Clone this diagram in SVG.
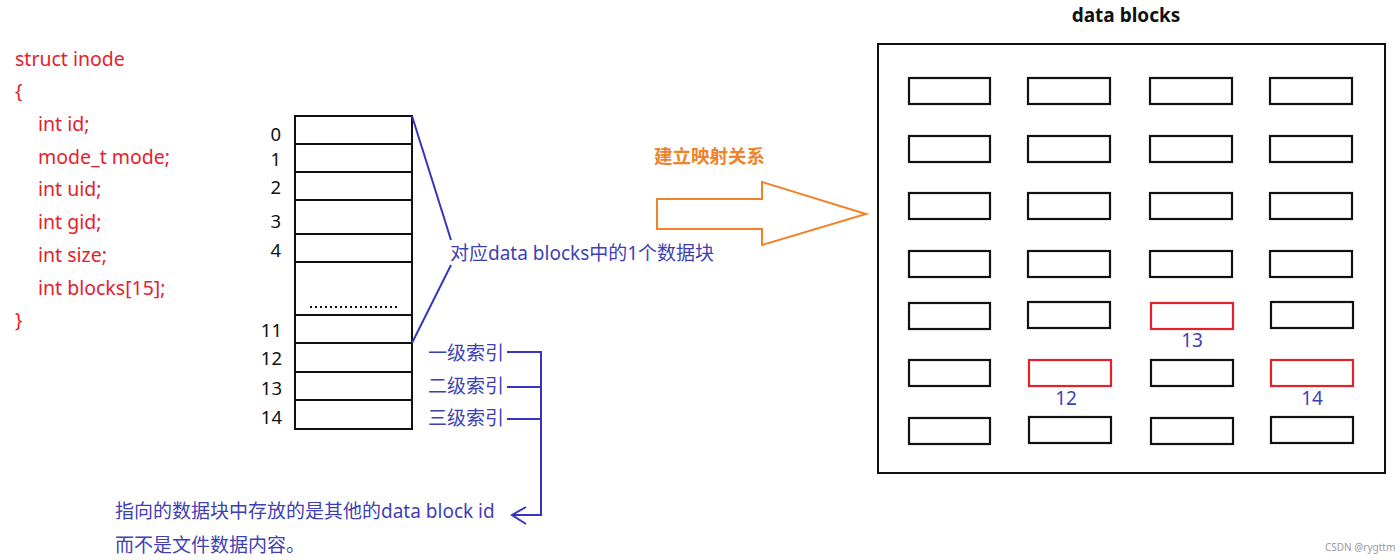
<svg xmlns="http://www.w3.org/2000/svg" width="1400" height="560" viewBox="0 0 1400 560">
<style>
.code{font-family:"Noto Sans","Noto Sans CJK SC",sans-serif;font-size:19.5px;fill:#e3222b}
.num{font-family:"Noto Sans","Noto Sans CJK SC",sans-serif;font-size:18.5px;fill:#111}
.blue{font-family:"Noto Sans","Noto Sans CJK SC",sans-serif;font-size:19px;fill:#3f3fb5}
.cell{fill:#fff;stroke:#111;stroke-width:2}
.blk{fill:#fff;stroke:#111;stroke-width:2.2}
.red{fill:#fff;stroke:#e3222b;stroke-width:2.2}
.bl{stroke:#3535c0;stroke-width:2;fill:none}
</style>
<rect width="1400" height="560" fill="#fff"/>
<g id="struct">
<text class="code" x="15" y="66">struct inode</text>
<text class="code" x="15" y="98">{</text>
<text class="code" x="38" y="131">int id;</text>
<text class="code" x="38" y="164">mode_t mode;</text>
<text class="code" x="38" y="196">int uid;</text>
<text class="code" x="38" y="229">int gid;</text>
<text class="code" x="38" y="262">int size;</text>
<text class="code" x="38" y="295">int blocks[15];</text>
<text class="code" x="15" y="327">}</text>
</g>
<g id="inode-table">
<rect class="cell" x="295" y="116" width="117" height="313"/>
<path d="M295 144H412M295 172H412M295 200H412M295 234H412M295 262H412M295 315H412M295 343H412M295 372H412M295 400H412" stroke="#111" stroke-width="2"/>
<line x1="310" y1="307" x2="400" y2="307" stroke="#111" stroke-width="2" stroke-dasharray="2 3"/>
<g class="num" text-anchor="end">
<text x="281" y="141">0</text>
<text x="281" y="166">1</text>
<text x="281" y="194">2</text>
<text x="281" y="228">3</text>
<text x="281" y="257">4</text>
<text x="282" y="337">11</text>
<text x="282" y="365">12</text>
<text x="282" y="395">13</text>
<text x="282" y="424">14</text>
</g>
</g>
<g id="labels">
<text class="blue" x="450" y="260">对应data blocks中的1个数据块</text>
<text class="blue" x="428" y="360">一级索引</text>
<text class="blue" x="428" y="393">二级索引</text>
<text class="blue" x="428" y="425">三级索引</text>
<text class="blue" x="115" y="518">指向的数据块中存放的是其他的data block id</text>
<text class="blue" x="115" y="552">而不是文件数据内容。</text>
</g>
<g id="connectors">
<polyline class="bl" points="412,116 451,240"/>
<polyline class="bl" points="451,265 412,343"/>
<path class="bl" d="M507 352H541M507 387H541M507 419H541M541 351V515H513"/>
<path class="bl" d="M526 507L512 515L526 524"/>
</g>
<g id="mapping-arrow">
<text x="654" y="163" font-family="Noto Sans CJK SC,sans-serif" font-size="18.5" font-weight="bold" fill="#f0822a">建立映射关系</text>
<polygon points="657,199 762,199 762,182 866,214 762,245 762,229 657,229" fill="#fff" stroke="#f0822a" stroke-width="2"/>
</g>
<g id="data-blocks">
<text x="1126" y="22" text-anchor="middle" font-family="Noto Sans,Noto Sans CJK SC,sans-serif" font-size="19" font-weight="bold" fill="#111">data blocks</text>
<rect x="878" y="44" width="507" height="429" fill="none" stroke="#111" stroke-width="2"/>
<g id="row1"><rect class="blk" x="909" y="78" width="81" height="26"/><rect class="blk" x="1028" y="78" width="82" height="26"/><rect class="blk" x="1150" y="78" width="82" height="26"/><rect class="blk" x="1270" y="78" width="82" height="26"/></g>
<g id="row2"><rect class="blk" x="909" y="136" width="81" height="26"/><rect class="blk" x="1028" y="136" width="82" height="26"/><rect class="blk" x="1150" y="136" width="82" height="26"/><rect class="blk" x="1270" y="136" width="82" height="26"/></g>
<g id="row3"><rect class="blk" x="909" y="193" width="81" height="26"/><rect class="blk" x="1028" y="193" width="82" height="26"/><rect class="blk" x="1150" y="193" width="82" height="26"/><rect class="blk" x="1270" y="193" width="82" height="26"/></g>
<g id="row4"><rect class="blk" x="909" y="251" width="81" height="26"/><rect class="blk" x="1028" y="251" width="82" height="26"/><rect class="blk" x="1150" y="251" width="82" height="26"/><rect class="blk" x="1270" y="251" width="82" height="26"/></g>
<g id="row5"><rect class="blk" x="909" y="303" width="81" height="26"/><rect class="blk" x="1028" y="302" width="82" height="26"/><rect class="red" x="1151" y="303" width="82" height="26"/><rect class="blk" x="1271" y="302" width="82" height="26"/></g>
<g id="row6"><rect class="blk" x="909" y="360" width="81" height="26"/><rect class="red" x="1029" y="360" width="82" height="26"/><rect class="blk" x="1151" y="360" width="82" height="26"/><rect class="red" x="1271" y="360" width="82" height="26"/></g>
<g id="row7"><rect class="blk" x="909" y="418" width="81" height="26"/><rect class="blk" x="1029" y="417" width="82" height="26"/><rect class="blk" x="1151" y="418" width="82" height="26"/><rect class="blk" x="1271" y="417" width="82" height="26"/></g>
<text class="blue" x="1192" y="347" text-anchor="middle">13</text>
<text class="blue" x="1066" y="405" text-anchor="middle">12</text>
<text class="blue" x="1312" y="405" text-anchor="middle">14</text>
</g>
<text x="1325" y="551" font-family="Noto Sans,sans-serif" font-size="10" fill="#999">CSDN @rygttm</text>
</svg>
